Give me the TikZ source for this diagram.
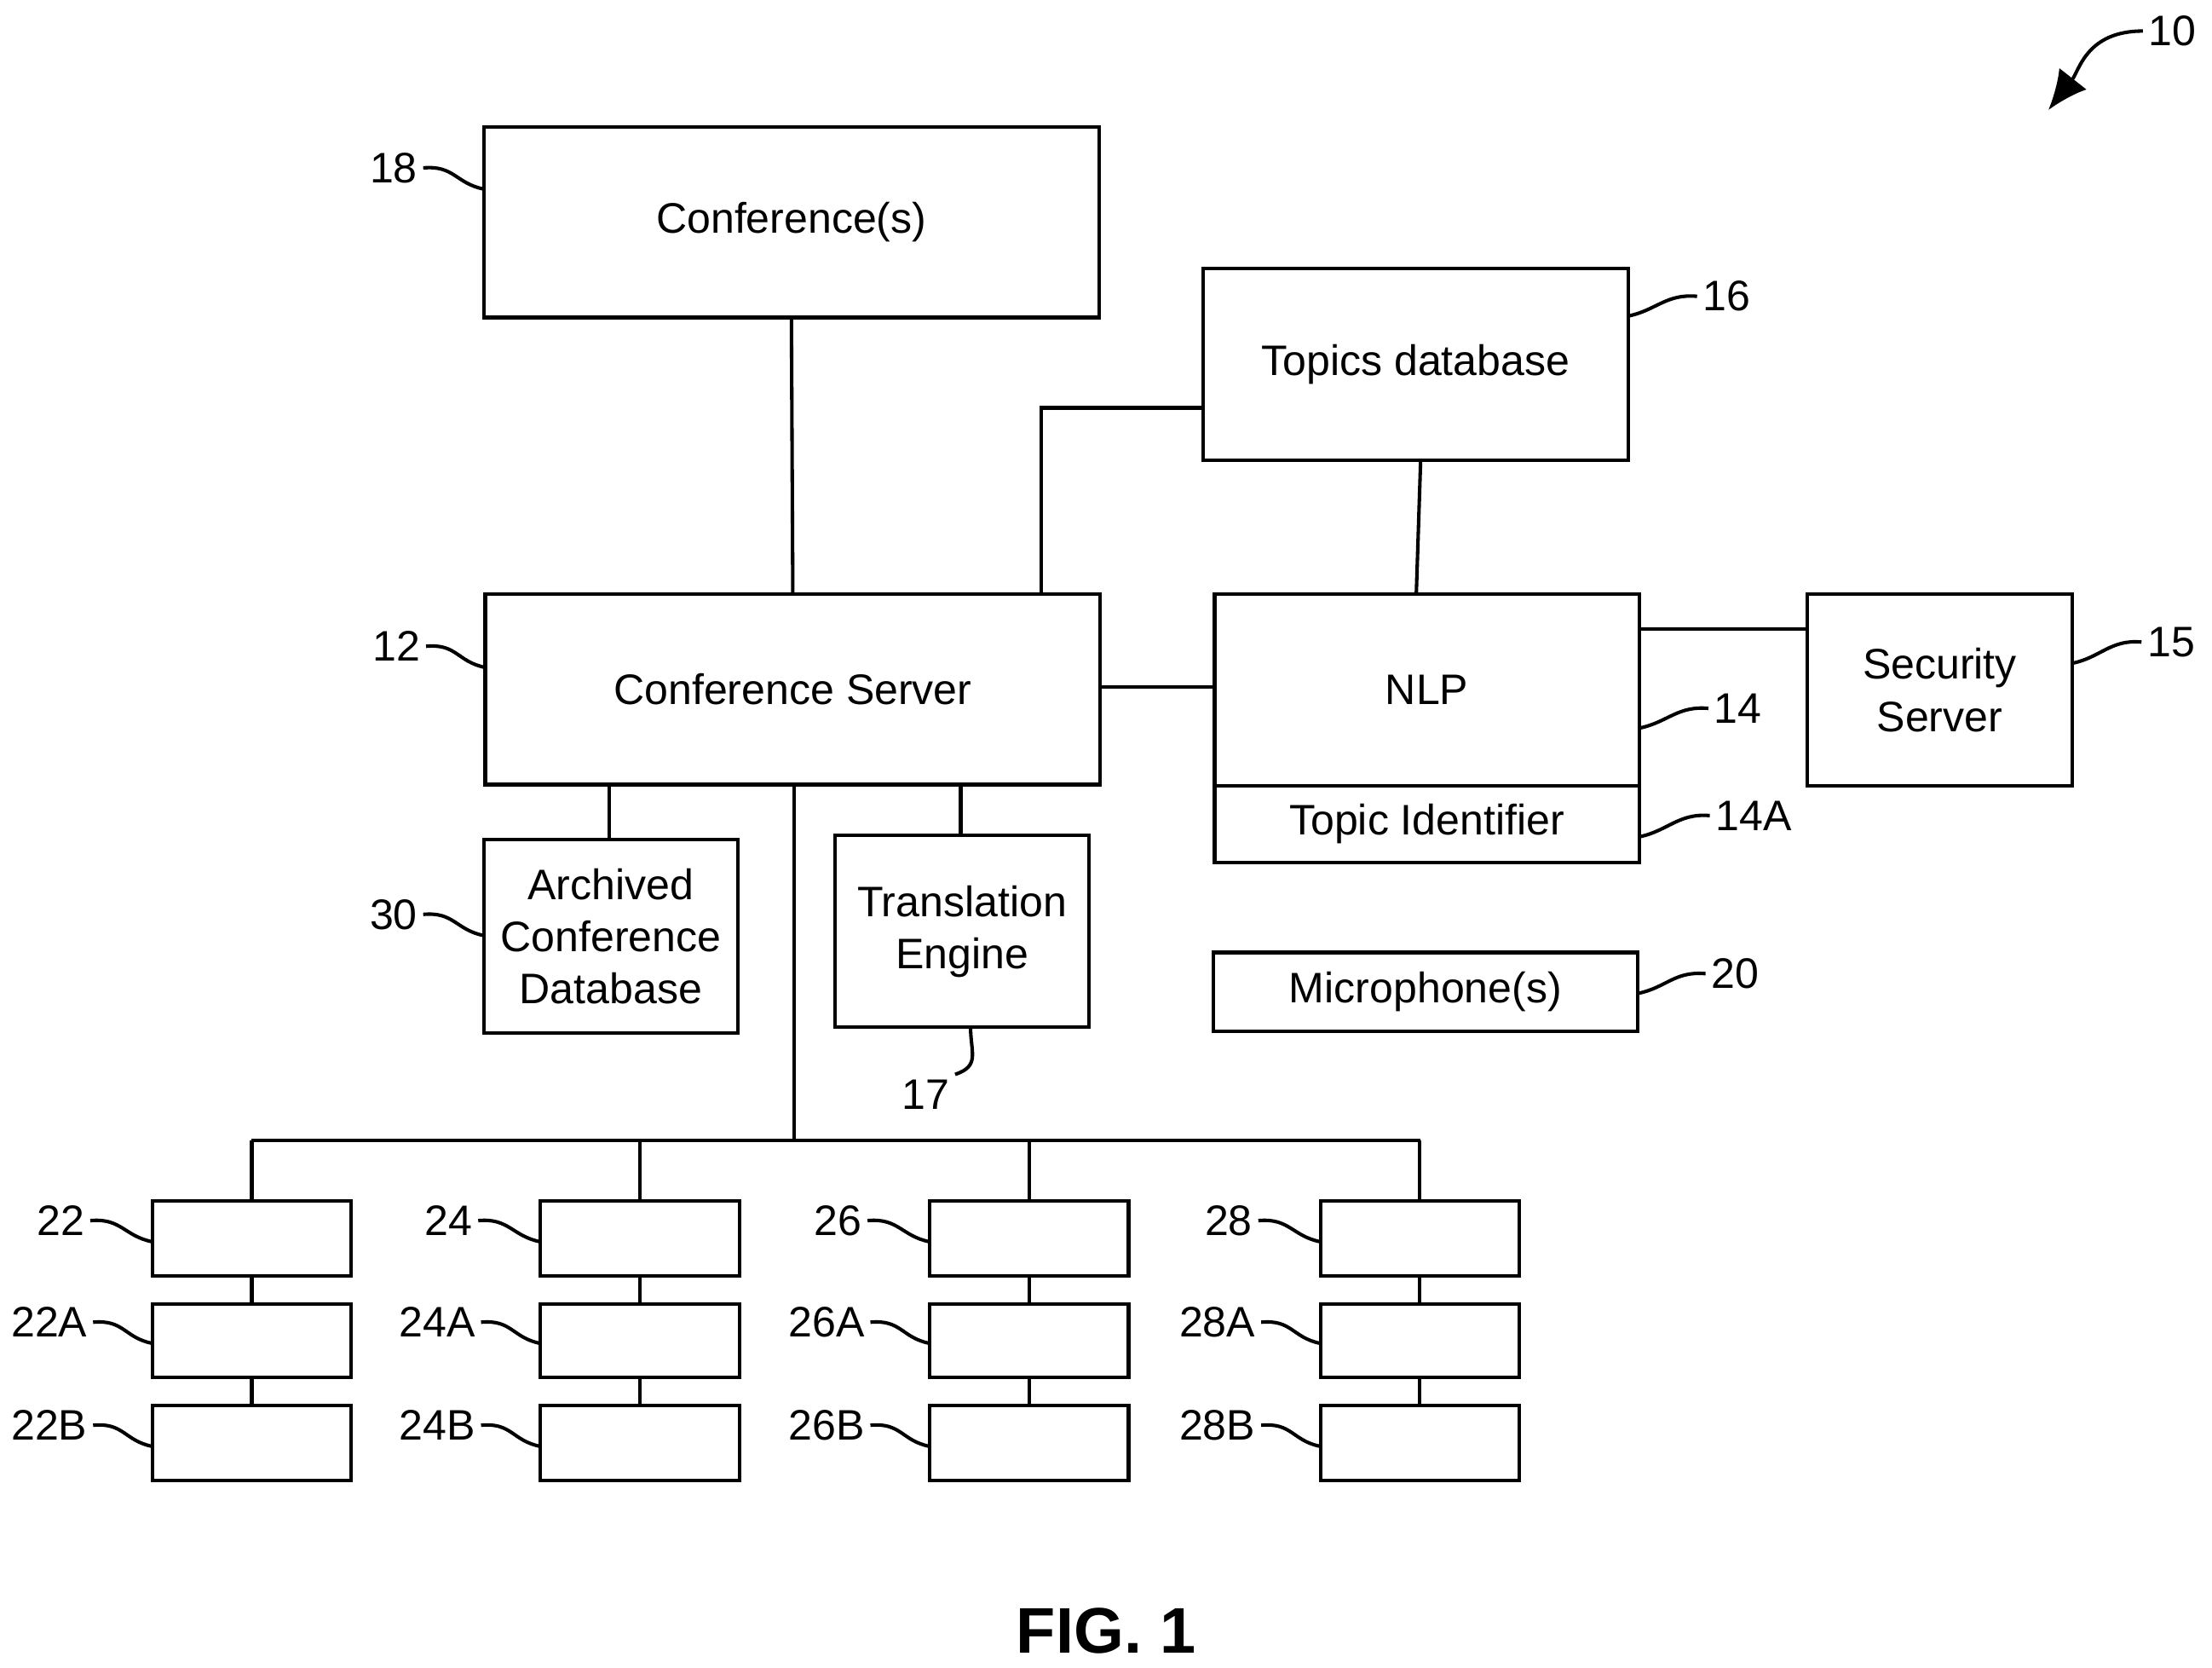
\documentclass[tikz,border=0pt]{standalone}
\usepackage{fontspec}
\setmainfont{Liberation Sans}
\usetikzlibrary{arrows.meta}
\tikzset{
  box/.style={draw, line width=0.7pt, inner sep=1pt, align=center, font=\fontsize{8.6}{10.5}\selectfont},
  ref/.style={font=\fontsize{8.6}{10}\selectfont, inner sep=1pt},
  lead/.style={line width=0.7pt},
  wire/.style={line width=0.7pt}
}
% box from corners (px): name, x1, y1, x2, y2, text
\newcommand\bx[6]{\pgfmathsetmacro\bw{(#4-#2)*0.01}\pgfmathsetmacro\bh{(#5-#3)*0.01}%
  \node[box, minimum width=\bw cm, minimum height=\bh cm] (#1) at ({(#2+#4)/2},{(#3+#5)/2}) {#6};}
% reference label with curly leader: name, label pos, text, target
\newcommand\lbl[4]{\node[ref, anchor=east] (#1) at (#2) {#3};
  \draw[lead] (#1.east) .. controls +(22,-2) and +(-20,-4) .. (#4);}
\newcommand\rlbl[4]{\node[ref, anchor=west] (#1) at (#2) {#3};
  \draw[lead] (#1.west) .. controls +(-22,-2) and +(20,-4) .. (#4);}
\begin{document}
\begin{tikzpicture}[x=0.01cm, y=-0.01cm]
\useasboundingbox (0,0) rectangle (1568,1182);

\bx{conf}{343}{90}{779}{225}{Conference(s)}
\bx{topics}{853}{190}{1154}{326}{Topics database}
\bx{server}{344}{421}{780}{556}{Conference Server}
\bx{nlp}{861}{421}{1162}{557}{NLP}
\bx{topicid}{861}{557}{1162}{611}{Topic Identifier}
\bx{security}{1281}{421}{1469}{557}{Security\\Server}
\bx{archive}{343}{595}{523}{732}{Archived\\Conference\\Database}
\bx{transl}{592}{592}{772}{728}{Translation\\Engine}
\bx{mic}{860}{675}{1161}{731}{Microphone(s)}

% connectors
\draw[wire] (conf.south) -- (server.north);
\draw[wire] (server.north -| 738,0) |- (topics.west |- 0,289);
\draw[wire] (topics.south -| 1007,0) -- (nlp.north -| 1004,0);
\draw[wire] (server.east |- 0,487) -- (nlp.west |- 0,487);
\draw[wire] (nlp.east |- 0,446) -- (security.west |- 0,446);
\draw[wire] (server.south -| 432,0) -- (archive.north -| 432,0);
\draw[wire] (server.south -| 681,0) -- (transl.north -| 681,0);
\coordinate (trunk) at (563,808);
\draw[wire] (server.south -| trunk) -- (trunk);
\draw[wire] (178,808) -- (1007,808);

% client boxes
\foreach \c/\x in {22/108,24/383,26/659,28/936}{
  \pgfmathsetmacro\xr{\x+141}
  \bx{b\c}{\x}{851}{\xr}{904}{}
  \bx{b\c A}{\x}{924}{\xr}{976}{}
  \bx{b\c B}{\x}{996}{\xr}{1049}{}
  \draw[wire] (b\c.north |- trunk) -- (b\c.north);
  \draw[wire] (b\c.south) -- (b\c A.north);
  \draw[wire] (b\c A.south) -- (b\c B.north);
  \lbl{l\c}{\x-44,865}{\c}{\x,880}
  \lbl{l\c A}{\x-42,937}{\c A}{\x,952}
  \lbl{l\c B}{\x-42,1010}{\c B}{\x,1025}
}

% reference numerals
\lbl{l18}{300,119}{18}{343,134}
\lbl{l12}{302,458}{12}{344,473}
\lbl{l30}{300,648}{30}{343,663}
\rlbl{l16}{1203,210}{16}{1154,224}
\rlbl{l15}{1518,455}{15}{1469,470}
\rlbl{l14}{1211,502}{14}{1162,516}
\rlbl{l14A}{1212,578}{14A}{1162,593}
\rlbl{l20}{1209,690}{20}{1161,704}
\node[ref] (l17) at (656,776) {17};
\draw[lead] (l17.north east) .. controls +(18,-6) and +(0,18) .. (688,728);
\node[ref] (l10) at (1540,22) {10};
\draw[lead, -{Latex[length=8pt,width=7pt]}] (l10.west) .. controls +(-40,0) and +(22,-28) .. (1452,78);

\node[font=\bfseries\fontsize{13}{15}\selectfont] (fig) at (784,1156) {FIG. 1};
\end{tikzpicture}
\end{document}
